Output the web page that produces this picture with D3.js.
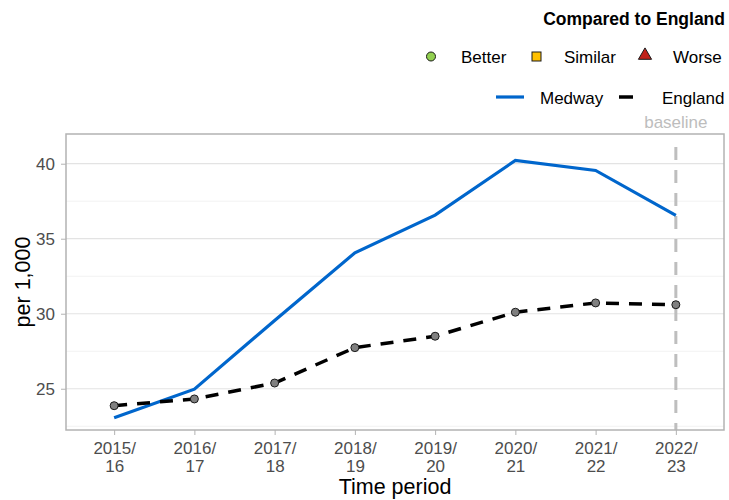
<!DOCTYPE html>
<html lang="en">
<head>
<meta charset="utf-8">
<script src="https://d3js.org/d3.v7.min.js"></script>
<style>
  body { margin: 0; background: #fff; }
  text { font-family: "Liberation Sans", Arial, sans-serif; }
</style>
</head>
<body>
<div id="my_dataviz"></div>
<script>

// data
var periods = ["2015/16", "2016/17", "2017/18", "2018/19", "2019/20", "2020/21", "2021/22", "2022/23"];
var medway  = [23.07, 24.97, 29.55, 34.06, 36.57, 40.22, 39.55, 36.55];
var england = [23.87, 24.32, 25.38, 27.74, 28.5, 30.1, 30.72, 30.6];
var yTicks = [25, 30, 35, 40];
var yMinor = [22.5, 27.5, 32.5, 37.5];
var baselinePeriod = "2022/23";

var W = 729, H = 500;
var margin = {top: 134, right: 5, bottom: 70, left: 66},
    width = W - margin.left - margin.right,
    height = H - margin.top - margin.bottom;

var svg = d3.select("#my_dataviz")
  .append("svg")
    .attr("width", W)
    .attr("height", H);

var g = svg.append("g")
    .attr("transform", "translate(" + margin.left + "," + margin.top + ")");

// scales
var x = d3.scalePoint()
  .domain(periods)
  .range([0, width])
  .padding(0.6);

var y = d3.scaleLinear()
  .domain([22.25, 41.98])
  .range([height, 0]);

// grid lines
g.selectAll(".minor")
  .data(yMinor)
  .enter().append("line")
    .attr("x1", 0).attr("x2", width)
    .attr("y1", function(d) { return y(d); })
    .attr("y2", function(d) { return y(d); })
    .attr("stroke", "#f2f2f2")
    .attr("stroke-width", 1);

g.selectAll(".major")
  .data(yTicks)
  .enter().append("line")
    .attr("x1", 0).attr("x2", width)
    .attr("y1", function(d) { return y(d); })
    .attr("y2", function(d) { return y(d); })
    .attr("stroke", "#e3e3e3")
    .attr("stroke-width", 1.2);

// baseline
g.append("line")
  .attr("x1", x(baselinePeriod)).attr("x2", x(baselinePeriod))
  .attr("y1", 13).attr("y2", height)
  .attr("stroke", "#bebebe")
  .attr("stroke-width", 3)
  .attr("stroke-dasharray", "13,10");

g.append("text")
  .attr("x", x(baselinePeriod))
  .attr("y", -6)
  .attr("text-anchor", "middle")
  .style("font-size", "17px")
  .style("fill", "#bdbdbd")
  .text("baseline");

// lines
var line = d3.line()
  .x(function(d, i) { return x(periods[i]); })
  .y(function(d) { return y(d); });

g.append("path")
  .datum(medway)
  .attr("d", line)
  .attr("fill", "none")
  .attr("stroke", "#0066cc")
  .attr("stroke-width", 3.2);

g.append("path")
  .datum(england)
  .attr("d", line)
  .attr("fill", "none")
  .attr("stroke", "#000")
  .attr("stroke-width", 3.5)
  .attr("stroke-dasharray", "13,10");

g.selectAll(".dot")
  .data(england)
  .enter().append("circle")
    .attr("cx", function(d, i) { return x(periods[i]); })
    .attr("cy", function(d) { return y(d); })
    .attr("r", 4)
    .attr("fill", "#808080")
    .attr("stroke", "#1a1a1a")
    .attr("stroke-width", 1);

// panel border
g.append("rect")
  .attr("x", 0).attr("y", 0)
  .attr("width", width).attr("height", height)
  .attr("fill", "none")
  .attr("stroke", "#b3b3b3")
  .attr("stroke-width", 1.5);

// axes
var yAxis = g.append("g")
  .call(d3.axisLeft(y).tickValues(yTicks).tickSize(5).tickPadding(6));
yAxis.select(".domain").remove();
yAxis.selectAll(".tick line").attr("stroke", "#b3b3b3");
yAxis.selectAll(".tick text")
  .style("font-size", "17px")
  .style("fill", "#4d4d4d")
  .style("font-family", "Liberation Sans, Arial, sans-serif");

var xAxis = g.append("g")
  .attr("transform", "translate(0," + height + ")")
  .call(d3.axisBottom(x).tickSize(5).tickFormat(""));
xAxis.select(".domain").remove();
xAxis.selectAll(".tick line").attr("stroke", "#b3b3b3");
xAxis.selectAll(".tick").each(function(d) {
  var parts = d.split("/");
  var t = d3.select(this).append("text")
    .attr("text-anchor", "middle")
    .style("font-size", "17px")
    .style("fill", "#4d4d4d")
    .style("font-family", "Liberation Sans, Arial, sans-serif");
  t.append("tspan").attr("x", 0).attr("y", 24).text(parts[0] + "/");
  t.append("tspan").attr("x", 0).attr("y", 42).text(parts[1]);
});

// axis titles
svg.append("text")
  .attr("x", margin.left + width / 2)
  .attr("y", 494)
  .attr("text-anchor", "middle")
  .style("font-size", "21.5px")
  .style("fill", "#000")
  .text("Time period");

svg.append("text")
  .attr("transform", "translate(30," + (margin.top + height / 2) + ") rotate(-90)")
  .attr("text-anchor", "middle")
  .style("font-size", "21.5px")
  .style("fill", "#000")
  .text("per 1,000");

// legend
svg.append("text")
  .attr("x", 725).attr("y", 25)
  .attr("text-anchor", "end")
  .style("font-size", "17.5px")
  .style("font-weight", "bold")
  .text("Compared to England");

var legY = 56.5;
svg.append("circle").attr("cx", 431).attr("cy", legY).attr("r", 4.5)
  .attr("fill", "#92d050").attr("stroke", "#1a1a1a").attr("stroke-width", 1);
svg.append("text").attr("x", 461).attr("y", legY + 6.5).text("Better").style("font-size", "17px");
svg.append("rect").attr("x", 532).attr("y", legY - 4.5).attr("width", 9).attr("height", 9)
  .attr("fill", "#ffc000").attr("stroke", "#1a1a1a").attr("stroke-width", 1);
svg.append("text").attr("x", 564).attr("y", legY + 6.5).text("Similar").style("font-size", "17px");
svg.append("path")
  .attr("d", d3.symbol().type(d3.symbolTriangle).size(75)())
  .attr("transform", "translate(645," + (legY - 1) + ")")
  .attr("fill", "#c0211a").attr("stroke", "#1a1a1a").attr("stroke-width", 1);
svg.append("text").attr("x", 673).attr("y", legY + 6.5).text("Worse").style("font-size", "17px");

var legY2 = 97;
svg.append("line").attr("x1", 496).attr("x2", 524).attr("y1", legY2).attr("y2", legY2)
  .attr("stroke", "#0066cc").attr("stroke-width", 3.2);
svg.append("text").attr("x", 540).attr("y", legY2 + 6.5).text("Medway").style("font-size", "17px");
svg.append("line").attr("x1", 619).attr("x2", 633).attr("y1", legY2).attr("y2", legY2)
  .attr("stroke", "#000").attr("stroke-width", 3.5);
svg.append("text").attr("x", 662).attr("y", legY2 + 6.5).text("England").style("font-size", "17px");

</script>
</body>
</html>
